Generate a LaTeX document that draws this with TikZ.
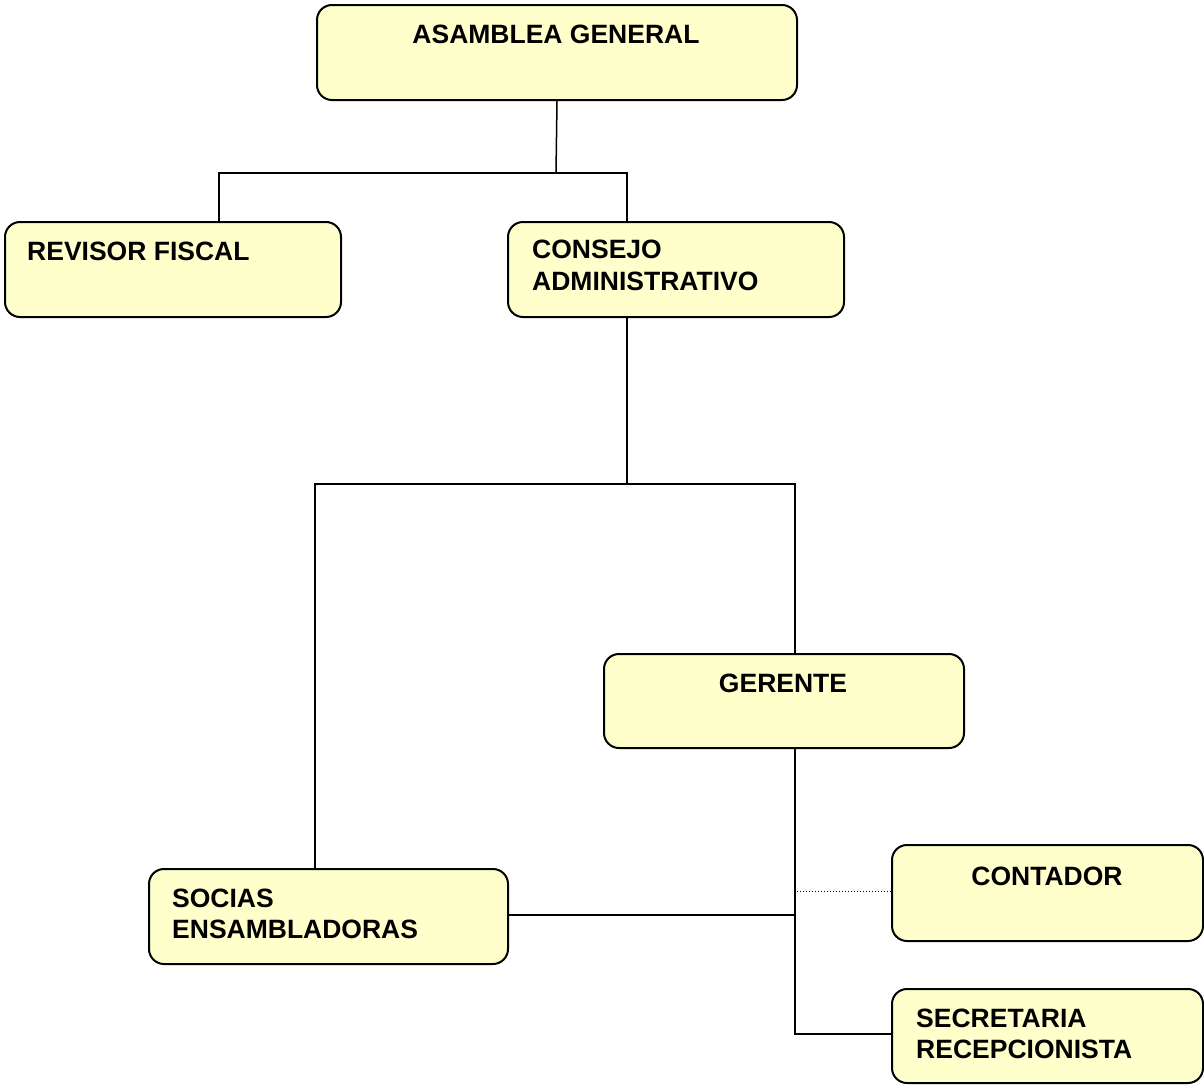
\documentclass[tikz,border=0pt]{standalone}
\usepackage{fontspec}
\setmainfont{Liberation Sans}
\definecolor{boxfill}{HTML}{FFFFCC}
\begin{document}
\begin{tikzpicture}[x=1pt,y=-1pt,
  box/.style={draw=black, line width=2pt, fill=boxfill, rounded corners=15pt, anchor=north west, inner sep=0pt},
  txt/.style={font=\fontsize{26.5}{31}\selectfont\bfseries, inner sep=0pt, align=left},
  conn/.style={line width=1.5pt},
  dots/.style={line width=1pt, dotted}]
\useasboundingbox (0,0) rectangle (1204,1084);
% boxes
\node[box, minimum width=480pt, minimum height=95pt] (ag) at (316,4) {};
\node[box, minimum width=336pt, minimum height=95pt] (rf) at (4,221) {};
\node[box, minimum width=336pt, minimum height=95pt] (ca) at (507,221) {};
\node[box, minimum width=360pt, minimum height=94pt] (ge) at (603,653) {};
\node[box, minimum width=359pt, minimum height=95pt] (so) at (148,868) {};
\node[box, minimum width=311pt, minimum height=96pt] (co) at (891,844) {};
\node[box, minimum width=311pt, minimum height=94pt] (se) at (891,988) {};
% texts
\node[txt, anchor=base] (tag) at (556,43) {ASAMBLEA GENERAL};
\node[txt, anchor=base west] (trf) at (27,260) {REVISOR FISCAL};
\node[txt, anchor=base west] (tca) at (532,258) {CONSEJO};
\node[txt, anchor=base west] (tca2) at (532,290) {ADMINISTRATIVO};
\node[txt, anchor=base] (tge) at (783,692) {GERENTE};
\node[txt, anchor=base west] (tso) at (172,907) {SOCIAS};
\node[txt, anchor=base west] (tso2) at (172,938) {ENSAMBLADORAS};
\node[txt, anchor=base] (tco) at (1047,885) {CONTADOR};
\node[txt, anchor=base west] (tse) at (916,1027) {SECRETARIA};
\node[txt, anchor=base west] (tse2) at (916,1058) {RECEPCIONISTA};
% junction coordinates
\coordinate (j1) at (556,173);
\coordinate (j2) at (627,484);
\coordinate (j3) at (795,915);
\coordinate (j4) at (797,891);
% connectors
\draw[conn] (ag.south) -- (j1);
\draw[conn] (rf.north -| 219,0) -- (219,173) -- (627,173) -- (ca.north -| 627,0);
\draw[conn] (ca.south -| j2) -- (j2);
\draw[conn] (so.north -| 315,0) -- (315,484) -- (795,484) -- (ge.north -| 795,0);
\draw[conn] (ge.south -| 795,0) -- (795,1034) -- (se.west |- 0,1034);
\draw[conn] (so.east |- j3) -- (j3);
\draw[dots] (j4) -- (co.west |- j4);
\end{tikzpicture}
\end{document}
